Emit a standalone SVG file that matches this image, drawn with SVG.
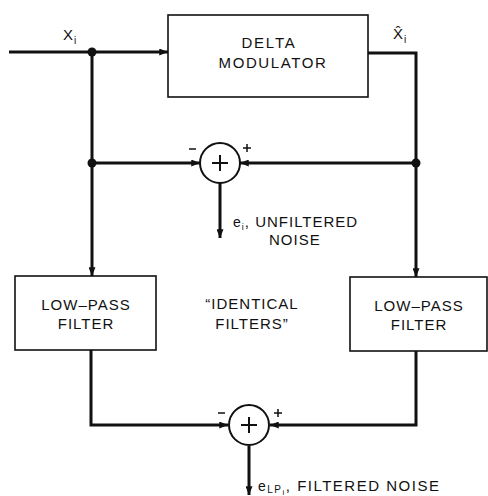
<svg xmlns="http://www.w3.org/2000/svg" width="488" height="496" viewBox="0 0 488 496">
<style>
.box{fill:#fff;stroke:#111;stroke-width:1.6}
.ln{fill:none;stroke:#111;stroke-width:3}
.sum{fill:#fff;stroke:#111;stroke-width:2}
.t{font-family:"Liberation Sans",Arial,sans-serif;font-size:15px;fill:#111;letter-spacing:1px}
.c{text-anchor:middle}
</style>
<defs>
<marker id="ah" viewBox="0 0 10 8" refX="10" refY="4" markerWidth="10" markerHeight="7" markerUnits="userSpaceOnUse" orient="auto">
<path d="M0,0 L10,4 L0,8 Z" fill="#111"/>
</marker>
</defs>
<rect width="488" height="496" fill="#fff"/>
<g id="connectors">
<path class="ln" d="M9,52 H168" marker-end="url(#ah)"/>
<path class="ln" d="M92,52 V276" marker-end="url(#ah)"/>
<path class="ln" d="M92,163 H200" marker-end="url(#ah)"/>
<path class="ln" d="M368,53 H416 V277" marker-end="url(#ah)"/>
<path class="ln" d="M416,163 H240" marker-end="url(#ah)"/>
<path class="ln" d="M220,183 V238" marker-end="url(#ah)"/>
<path class="ln" d="M91,350 V425 H228" marker-end="url(#ah)"/>
<path class="ln" d="M416,351 V425 H270" marker-end="url(#ah)"/>
<path class="ln" d="M249,446 V495" marker-end="url(#ah)"/>
<circle cx="92" cy="52" r="4.5" fill="#111"/>
<circle cx="92" cy="163" r="4.5" fill="#111"/>
<circle cx="416" cy="163" r="4.5" fill="#111"/>
</g>
<g id="labels">
<text class="t" x="63" y="40">X<tspan font-size="10" dy="4">i</tspan></text>
<text class="t" x="393" y="39">X&#770;<tspan font-size="10" dy="4">i</tspan></text>
</g>
<g id="delta-modulator">
<rect class="box" x="168" y="15" width="200" height="82"/>
<text class="t c" x="269" y="48" style="letter-spacing:1.8px">DELTA</text>
<text class="t c" x="273" y="68" style="letter-spacing:1.6px">MODULATOR</text>
</g>
<g id="sum1">
<circle class="sum" cx="220" cy="163" r="20"/>
<path d="M212,163 H228 M220,155 V171" stroke="#111" stroke-width="2"/>
<path d="M189,149 H196" stroke="#111" stroke-width="1.5"/>
<path d="M243,148 H251 M247,144 V152" stroke="#111" stroke-width="1.5"/>
<text class="t" x="233" y="227"><tspan font-size="14">e</tspan><tspan font-size="9" dy="3">i</tspan><tspan dy="-3">, UNFILTERED</tspan></text>
<text class="t" x="269" y="245">NOISE</text>
</g>
<g id="lpf-left">
<rect class="box" x="15" y="276" width="141" height="74"/>
<text class="t c" x="86" y="310">LOW–PASS</text>
<text class="t c" x="86" y="329">FILTER</text>
</g>
<g id="identical">
<text class="t c" x="252" y="309">“IDENTICAL</text>
<text class="t c" x="252" y="329">FILTERS”</text>
</g>
<g id="lpf-right">
<rect class="box" x="350" y="277" width="137" height="74"/>
<text class="t c" x="419" y="311">LOW–PASS</text>
<text class="t c" x="419" y="330">FILTER</text>
</g>
<g id="sum2">
<circle class="sum" cx="249" cy="425" r="20"/>
<path d="M241,425 H257 M249,417 V433" stroke="#111" stroke-width="2"/>
<path d="M218,413 H225" stroke="#111" stroke-width="1.5"/>
<path d="M274,413 H282 M278,409 V417" stroke="#111" stroke-width="1.5"/>
<text class="t" x="258" y="491" style="letter-spacing:1.5px"><tspan font-size="14">e</tspan><tspan font-size="10" dy="2">LP</tspan><tspan font-size="8" dy="2">i</tspan><tspan dy="-4">, FILTERED NOISE</tspan></text>
</g>
</svg>
